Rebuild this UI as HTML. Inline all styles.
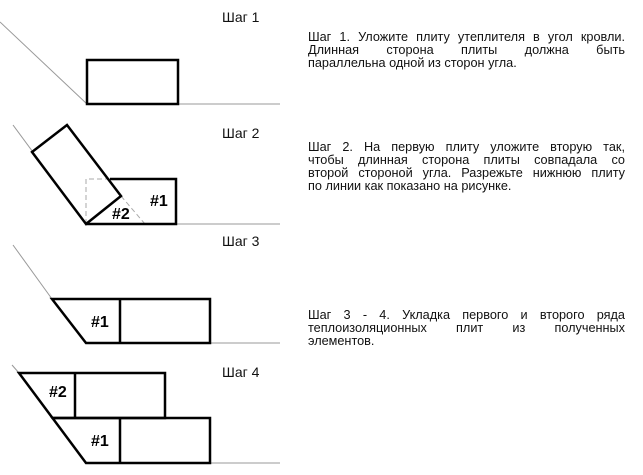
<!DOCTYPE html>
<html><head><meta charset="utf-8"><style>
body{margin:0;width:643px;height:475px;background:#fff;position:relative;overflow:hidden;font-family:"Liberation Sans",Arial,sans-serif}
.p{position:absolute;left:308px;width:317px;font-size:12.7px;line-height:13px;color:#111}
.p div{text-align:justify;text-align-last:justify;white-space:nowrap}
.p div.l{text-align-last:left}
.h{position:absolute;font-size:14px;color:#111}
svg{position:absolute;left:0;top:0}
</style></head><body>
<svg width="643" height="475">
<g stroke="#999" stroke-width="1" fill="none">
<line x1="0" y1="22" x2="87" y2="104"/><line x1="87" y1="104" x2="280" y2="104"/>
<line x1="13" y1="125" x2="86" y2="224"/><line x1="86" y1="224" x2="280" y2="224"/>
<line x1="13" y1="245" x2="52" y2="299"/><line x1="210" y1="343" x2="280" y2="343"/>
<line x1="12" y1="365" x2="19" y2="373"/><line x1="210" y1="463" x2="280" y2="463"/>
</g>
<g stroke="#aaa" stroke-width="1" fill="none" stroke-dasharray="5,3">
<polyline points="86,224 86,179 110,179"/><line x1="121" y1="196" x2="145" y2="224"/>
</g>
<g stroke="#000" stroke-width="2.5" fill="none" stroke-linejoin="miter">
<rect x="87" y="60" width="91" height="44"/>
<polyline points="110,179 176,179 176,224 86,224"/>
<polygon points="86,224 121,196 67,125 32,152"/>
<polygon points="52,299 210,299 210,343 86,343"/><line x1="120" y1="299" x2="120" y2="343"/>
<polygon points="19,373 165,373 165,418 52.5,418"/><line x1="75" y1="373" x2="75" y2="418"/>
<polygon points="52.5,418 210,418 210,463 86,463"/><line x1="120" y1="418" x2="120" y2="463"/>
</g>
<g font-family="Liberation Sans,Arial,sans-serif" font-weight="bold" font-size="16" fill="#000">
<text x="150" y="206">#1</text><text x="112" y="219">#2</text>
<text x="91" y="327">#1</text><text x="49" y="397">#2</text><text x="91" y="446">#1</text>
</g>
</svg>
<div class="h" style="left:222px;top:9px">Шаг 1</div>
<div class="h" style="left:222px;top:125px">Шаг 2</div>
<div class="h" style="left:222px;top:233px">Шаг 3</div>
<div class="h" style="left:222px;top:364px">Шаг 4</div>
<div class="p" style="top:31px"><div>Шаг 1. Уложите плиту утеплителя в угол кровли.</div><div>Длинная сторона плиты должна быть</div><div class="l">параллельна одной из сторон угла.</div></div>
<div class="p" style="top:141px"><div>Шаг 2. На первую плиту уложите вторую так,</div><div>чтобы длинная сторона плиты совпадала со</div><div>второй стороной угла. Разрежьте нижнюю плиту</div><div class="l">по линии как показано на рисунке.</div></div>
<div class="p" style="top:309px"><div>Шаг 3 - 4. Укладка первого и второго ряда</div><div>теплоизоляционных плит из полученных</div><div class="l">элементов.</div></div>
</body></html>
